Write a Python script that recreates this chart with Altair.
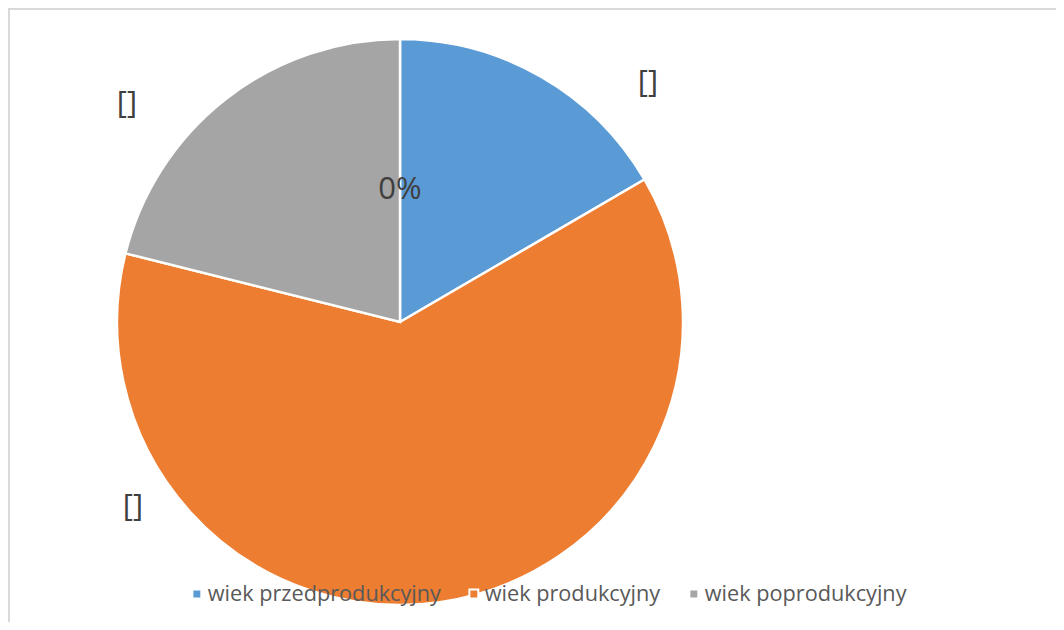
import altair as alt
import pandas as pd

categories = ["wiek przedprodukcyjny", "wiek produkcyjny", "wiek poprodukcyjny"]
shares = [16.6, 62.3, 21.1]
colors = ["#5B9BD5", "#ED7D31", "#A5A5A5"]
label_texts = ["[]", "[]", "[]", "0%"]

df = pd.DataFrame({"kat": categories, "udzial": shares, "idx": list(range(len(categories)))})

W, H = 1048, 614
CX, CY, R = 392, 314, 283

pie = alt.Chart(df).mark_arc(radius=R, stroke="white", strokeWidth=2.5).encode(
    theta=alt.Theta("udzial:Q", stack=True),
    order=alt.Order("idx:Q", sort="ascending"),
    color=alt.Color(
        "kat:N",
        sort=categories,
        scale=alt.Scale(domain=categories, range=colors),
        legend=alt.Legend(
            title=None,
            orient="none",
            direction="horizontal",
            legendX=178,
            legendY=575,
            symbolType="square",
            symbolSize=80,
            symbolStrokeColor="white",
            symbolStrokeWidth=2,
            symbolOpacity=1,
            labelFont="Open Sans",
            labelFontSize=21.7,
            labelColor="#595959",
            labelLimit=400,
            columnPadding=22,
            labelOffset=0,
        ),
    ),
    x=alt.value(CX),
    y=alt.value(CY),
)

frame = alt.Chart(pd.DataFrame({"a": [0]})).mark_rect(
    fill=None, stroke="#D9D9D9", strokeWidth=2
).encode(x=alt.value(1), y=alt.value(1), x2=alt.value(W + 40), y2=alt.value(H + 40))

label_pos = [(640, 75), (119, 96), (125, 499), (392, 182)]
texts = []
for t, (lx, ly) in zip(label_texts, label_pos):
    texts.append(
        alt.Chart(pd.DataFrame({"t": [t]})).mark_text(
            font="Open Sans", fontSize=31, color="#404040", align="center", baseline="middle"
        ).encode(text="t:N", x=alt.value(lx), y=alt.value(ly))
    )

chart = alt.layer(frame, pie, *texts).properties(
    width=W, height=H, autosize=alt.AutoSizeParams(type="none"), padding=0
).configure_view(stroke=None)

chart.save("out.html", embed_options={"renderer": "svg", "actions": False})
